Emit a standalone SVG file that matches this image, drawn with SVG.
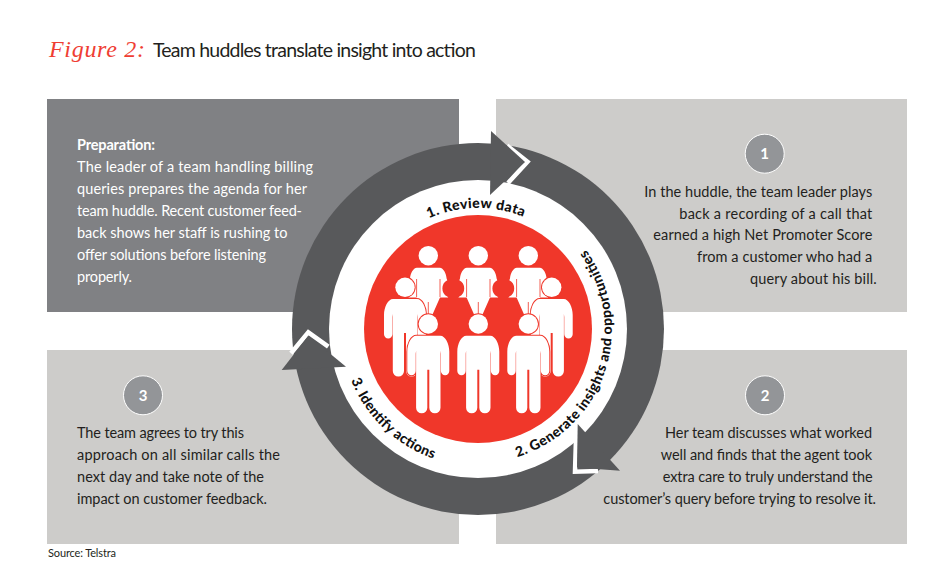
<svg xmlns="http://www.w3.org/2000/svg" xmlns:xlink="http://www.w3.org/1999/xlink" width="950" height="588" viewBox="0 0 950 588">
<style>
text{font-family:"Lato","Liberation Sans",sans-serif}
.b{font-size:14.5px;fill:#231f20}
.w{font-size:14.5px;fill:#fff}
.n{font-size:15px;font-weight:700;fill:#fff;text-anchor:middle}
.r{font-size:14px;font-weight:900;fill:#111}
.badge{fill:#939598;stroke:#fff;stroke-width:1}
.chev{fill:none;stroke:#fff;stroke-width:4.5}
.dark{fill:#58595b}
.pb{fill:#fff;stroke:#f0372a;stroke-width:2;paint-order:stroke}
.gap{stroke:#f0372a;stroke-width:.8;fill:none}
</style>
<defs>
<path id="person" d="M-12,0H12C17,0 21,8 21,16V35.3a4.2,4.2 0 0 1 -8.4,0V18L12.2,15V72a5.6,5.6 0 0 1 -11.2,0V34H-1V72a5.6,5.6 0 0 1 -11.2,0V15L-12.6,18V35.3a4.2,4.2 0 0 1 -8.4,0V16C-21,8 -17,0 -12,0Z"/>
<path id="back" d="M-11.5,0H11.5C15,0 18,6 18.3,10.7L19,12.5A9.3,9.3 0 0 0 19,28.9L20,29.7H11.7L4,47.3H-4L-11.7,29.7H-20L-19,28.9A9.3,9.3 0 0 0 -19,12.5L-18.3,10.7C-18,6 -15,0 -11.5,0Z"/>
<path id="arc1" d="M400.2,236.3A121,121 0 0 1 555.8,236.3"/>
<path id="arc2" d="M478,463A134,134 0 0 0 564.1,226.4"/>
<path id="arc3" d="M343.1,352.8A137,137 0 0 0 478,466"/>
</defs>
<rect width="950" height="588" fill="#fff"/>

<g id="title">
<text x="49" y="57" textLength="96" style="font-family:'Liberation Serif',serif;font-style:italic;font-size:24px;fill:#ef3e33">Figure 2:</text>
<text x="153" y="57" textLength="323" style="font-size:19.5px;fill:#231f20">Team huddles translate insight into action</text>
</g>

<g id="panel-preparation">
<rect x="47" y="99" width="412" height="213" fill="#808184"/>
<text class="w" x="77" y="149.5" textLength="78" style="font-weight:700">Preparation:</text>
<text class="w" x="77" y="171.7" textLength="236">The leader of a team handling billing</text>
<text class="w" x="77" y="193.5" textLength="230">queries prepares the agenda for her</text>
<text class="w" x="77" y="215.5" textLength="225">team huddle. Recent customer feed-</text>
<text class="w" x="77" y="237.5" textLength="210.5">back shows her staff is rushing to</text>
<text class="w" x="77" y="259.5" textLength="189">offer solutions before listening</text>
<text class="w" x="77" y="281.5" textLength="55">properly.</text>
</g>

<g id="panel-1">
<rect x="496" y="99" width="411" height="213" fill="#cdccca"/>
<circle class="badge" cx="764.7" cy="153.7" r="19.5"/>
<text class="n" x="764.7" y="159">1</text>
<text class="b" x="644.3" y="196.7" textLength="228">In the huddle, the team leader plays</text>
<text class="b" x="679.3" y="218.5" textLength="193">back a recording of a call that</text>
<text class="b" x="653.3" y="240.3" textLength="219">earned a high Net Promoter Score</text>
<text class="b" x="697" y="262.3" textLength="175.3">from a customer who had a</text>
<text class="b" x="750" y="284" textLength="126.7">query about his bill.</text>
</g>

<g id="panel-2">
<rect x="496" y="350" width="411" height="194" fill="#cdccca"/>
<circle class="badge" cx="765" cy="395.3" r="19.5"/>
<text class="n" x="765" y="400.6">2</text>
<text class="b" x="665" y="438.3" textLength="207">Her team discusses what worked</text>
<text class="b" x="660.7" y="460" textLength="211.3">well and finds that the agent took</text>
<text class="b" x="662.7" y="482.3" textLength="210">extra care to truly understand the</text>
<text class="b" x="603.3" y="504" textLength="272.7">customer’s query before trying to resolve it.</text>
</g>

<g id="panel-3">
<rect x="47" y="350" width="412" height="194" fill="#cdccca"/>
<circle class="badge" cx="143" cy="395.3" r="19.5"/>
<text class="n" x="143" y="400.6">3</text>
<text class="b" x="77" y="438.3" textLength="167">The team agrees to try this</text>
<text class="b" x="77" y="460" textLength="203">approach on all similar calls the</text>
<text class="b" x="77" y="482.3" textLength="187">next day and take note of the</text>
<text class="b" x="77" y="504" textLength="190">impact on customer feedback.</text>
</g>

<g id="source"><text x="48" y="557" textLength="68" style="font-size:11px;fill:#231f20">Source: Telstra</text></g>

<g id="connectors">
<circle class="dark" cx="478" cy="329" r="186"/>
<circle cx="478" cy="329" r="149" fill="#fff"/>
<polyline class="chev" points="507,145.5 527.5,161.7 508,183"/>
<polygon class="dark" points="491,131 525,162 490,195"/>
<polyline class="chev" points="576,438 575,471.7 598,471"/>
<polygon class="dark" points="577.7,424 620,470.7 577,467.5"/>
<polyline class="chev" points="291,353.3 308.3,332.3 328.3,346.7"/>
<polygon class="dark" points="308.3,335.7 346,366.7 281.7,370"/>
</g>

<g id="hub">
<circle cx="478" cy="329" r="114" fill="#f0372a"/>
</g>

<g id="people" fill="#fff">
<circle cx="428.3" cy="255.7" r="9.7"/><circle cx="478.3" cy="255.7" r="9.7"/><circle cx="528.3" cy="255.7" r="9.7"/>
<use href="#back" x="428.3" y="267.7"/><use href="#back" x="478.3" y="267.7"/><use href="#back" x="528.3" y="267.7"/>
<path class="gap" d="M416.6,279V297M440,279V297M466.6,279V297M490,279V297M516.6,279V297M540,279V297M428.3,302V315M478.3,302V315M528.3,302V315"/>
<g class="pb">
<use href="#person" x="405" y="299"/><circle cx="405" cy="287.3" r="9.7"/>
<use href="#person" x="551.7" y="299"/><circle cx="551.7" cy="287.3" r="9.7"/>
<use href="#person" x="428.3" y="335.7"/><circle cx="428.3" cy="324" r="9.7"/>
<use href="#person" x="478.3" y="335.7"/><circle cx="478.3" cy="324" r="9.7"/>
<use href="#person" x="528.3" y="335.7"/><circle cx="528.3" cy="324" r="9.7"/>
</g>
</g>

<g id="ring-labels">
<text class="r"><textPath href="#arc1" startOffset="33.8" textLength="97">1. Review data</textPath></text>
<text class="r"><textPath href="#arc2" startOffset="39.8" textLength="255">2. Generate insights and opportunities</textPath></text>
<text class="r"><textPath href="#arc3" startOffset="28.7" textLength="117">3. Identify actions</textPath></text>
</g>
</svg>
